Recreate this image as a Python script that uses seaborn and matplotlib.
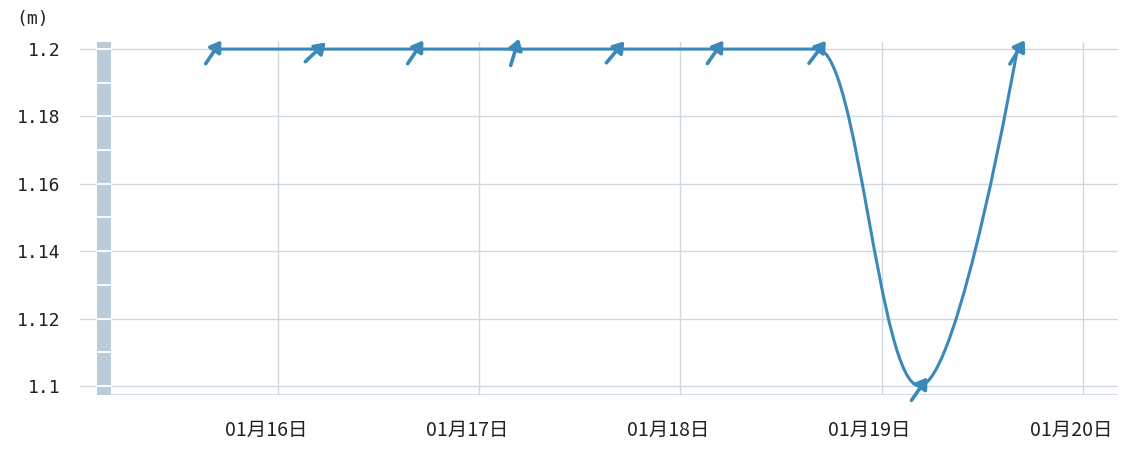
import numpy as np
import pandas as pd
import seaborn as sns
import matplotlib
matplotlib.use("Agg")
import matplotlib.pyplot as plt
import matplotlib.dates as mdates
import matplotlib.transforms as mtransforms
from matplotlib.path import Path
from matplotlib.patches import PathPatch, Rectangle

# tide readings (every ~12 h) and wind arrow bearing (degrees from north)
times = ["2024-01-15 16:20", "2024-01-16 04:30", "2024-01-16 16:25",
         "2024-01-17 04:15", "2024-01-17 16:15", "2024-01-18 04:10",
         "2024-01-18 16:20", "2024-01-19 04:30", "2024-01-19 16:10"]
levels = [1.2, 1.2, 1.2, 1.2, 1.2, 1.2, 1.2, 1.1, 1.2]
wind_dir = [34, 47, 34, 17, 40, 35, 37, 35, 32]

y_ticks = [1.1, 1.12, 1.14, 1.16, 1.18, 1.2]
y_labels = ["1.1", "1.12", "1.14", "1.16", "1.18", "1.2"]
day_ticks = ["2024-01-16", "2024-01-17", "2024-01-18", "2024-01-19", "2024-01-20"]
unit = "(m)"

line_col = "#3b89b9"
grid_col = "#cfd8e1"
bar_col = "#bccbd8"

df = pd.DataFrame({"time": pd.to_datetime(times), "level": levels, "dir": wind_dir})


def spline_path(xs, ys, smoothing=1.5):
    # highcharts-style spline through the points
    n = len(xs)
    denom = smoothing + 1
    right = [(xs[0], ys[0])] * n
    left = [(xs[0], ys[0])] * n
    for i in range(n):
        px, py = xs[i], ys[i]
        lc = (px, py)
        rc = (px, py)
        if 0 < i < n - 1:
            lx, ly = xs[i - 1], ys[i - 1]
            nx, ny = xs[i + 1], ys[i + 1]
            lcx = (smoothing * px + lx) / denom
            lcy = (smoothing * py + ly) / denom
            rcx = (smoothing * px + nx) / denom
            rcy = (smoothing * py + ny) / denom
            corr = 0
            if rcx != lcx:
                corr = (rcy - lcy) * (rcx - px) / (rcx - lcx) + py - rcy
            lcy += corr
            rcy += corr
            if lcy > ly and lcy > py:
                lcy = max(ly, py); rcy = 2 * py - lcy
            elif lcy < ly and lcy < py:
                lcy = min(ly, py); rcy = 2 * py - lcy
            if rcy > ny and rcy > py:
                rcy = max(ny, py); lcy = 2 * py - rcy
            elif rcy < ny and rcy < py:
                rcy = min(ny, py); lcy = 2 * py - rcy
            lc = (lcx, lcy)
            rc = (rcx, rcy)
        left[i] = lc
        right[i] = rc
    verts = [(xs[0], ys[0])]
    codes = [Path.MOVETO]
    for i in range(1, n):
        verts += [right[i - 1], left[i], (xs[i], ys[i])]
        codes += [Path.CURVE4] * 3
    return Path(verts, codes)


sns.set_theme(style="white")
plt.rcParams['font.family'] = ['DejaVu Sans Mono', 'Noto Sans CJK SC']

fig = plt.figure(figsize=(11.29, 4.5), dpi=100)
ax = fig.add_axes([80 / 1129, 1 - 395 / 450, 1038 / 1129, 353 / 450])

ax.set_xlim(pd.Timestamp("2024-01-15 00:25"), pd.Timestamp("2024-01-20 04:10"))
ax.set_ylim(1.0973, 1.2021)

xs = mdates.date2num(df["time"])
ys = df["level"].to_numpy()
ax.add_patch(PathPatch(spline_path(list(xs), list(ys)), fill=False,
                       edgecolor=line_col, lw=2.2, zorder=4, capstyle="round"))

# wind arrows
for x, y, d in zip(xs, ys, df["dir"]):
    a = np.deg2rad(90 - d)
    half = 14 / 100
    dx, dy = half * np.cos(a), half * np.sin(a)
    base = -3 / 100
    head_tr = ax.transData + mtransforms.ScaledTranslation(dx, dy + base, fig.dpi_scale_trans)
    tail_tr = ax.transData + mtransforms.ScaledTranslation(-dx, -dy + base, fig.dpi_scale_trans)
    ax.annotate("", xy=(x, y), xycoords=head_tr, xytext=(x, y), textcoords=tail_tr,
                arrowprops=dict(arrowstyle="-|>,head_length=0.45,head_width=0.3",
                                color=line_col, lw=2.6, mutation_scale=14,
                                shrinkA=0, shrinkB=0),
                zorder=5, annotation_clip=False)

# grid
ax.set_yticks(y_ticks)
ax.set_yticklabels(y_labels)
ax.set_xticks(pd.to_datetime(day_ticks))
ax.xaxis.set_major_formatter(mdates.DateFormatter("%m月%d日"))
ax.grid(True, color=grid_col, lw=1)
ax.set_axisbelow(True)
for s in ax.spines.values():
    s.set_visible(False)

# left level bar
bx0, bx1 = 17 / 1038, 31 / 1038
ax.add_patch(Rectangle((bx0, 0), bx1 - bx0, 1, transform=ax.transAxes,
                       color=bar_col, zorder=2, lw=0))
btr = mtransforms.blended_transform_factory(ax.transAxes, ax.transData)
for yv in np.arange(1.10, 1.2001, 0.01):
    ax.plot([bx0, bx1], [yv, yv], transform=btr, color="white", lw=1.3, zorder=3)
ax.axhline(ax.get_ylim()[0], xmin=bx1, xmax=1, color=grid_col, lw=1.2, zorder=3)

ax.tick_params(axis="y", length=0, pad=14, labelsize=13, labelcolor="#222222")
ax.tick_params(axis="x", length=5, width=1, color="#aab6c2", pad=13,
               labelsize=14, labelcolor="#222222", direction="out")
off = mtransforms.ScaledTranslation(-12 / 100, 0, fig.dpi_scale_trans)
for lab in ax.get_xticklabels():
    lab.set_family(['Noto Sans CJK SC', 'DejaVu Sans'])
    lab.set_transform(lab.get_transform() + off)

fig.text(16 / 1129, 1 - 19 / 450, unit, fontsize=13, va="center", ha="left",
         color="#222222", family=['DejaVu Sans Mono', 'Noto Sans CJK SC'])

fig.savefig("out.png", dpi=100)
